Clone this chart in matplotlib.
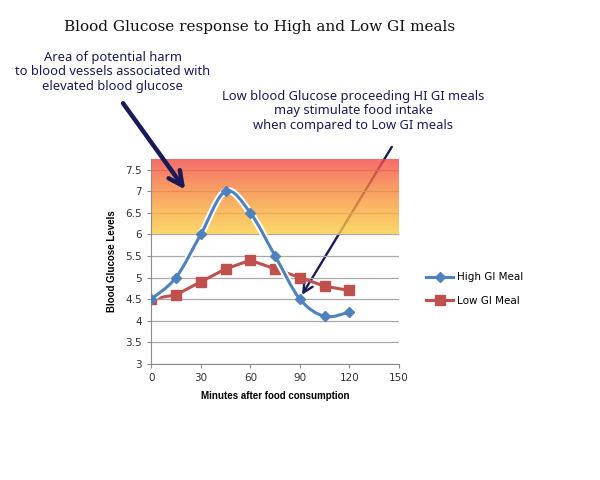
import matplotlib

matplotlib.use("Agg")

import matplotlib.pyplot as plt
import matplotlib.patheffects as pe
import numpy as np
from matplotlib.colors import LinearSegmentedColormap
from matplotlib.path import Path
from matplotlib.patches import PathPatch

minutes = [0, 15, 30, 45, 60, 75, 90, 105, 120]
high_gi = [4.5, 5.0, 6.0, 7.0, 6.5, 5.5, 4.5, 4.1, 4.2]
low_gi = [4.5, 4.6, 4.9, 5.2, 5.4, 5.2, 5.0, 4.8, 4.7]

harm_low, harm_high = 6.0, 7.75

TITLE = "Blood Glucose response to High and Low GI meals"
NOTE_LEFT = "Area of potential harm\nto blood vessels associated with\nelevated blood glucose"
NOTE_RIGHT = "Low blood Glucose proceeding HI GI meals\nmay stimulate food intake\nwhen compared to Low GI meals"

BLUE = "#4f81bd"
RED = "#c0504d"
NAVY = "#1a1a5a"


def smooth_path(xs, ys, tension=1 / 6):
    # Catmull-Rom style cubic bezier through the points (like Excel's smoothed line)
    pts = np.column_stack([xs, ys]).astype(float)
    verts = [pts[0]]
    codes = [Path.MOVETO]
    n = len(pts)
    for i in range(n - 1):
        p0 = pts[i - 1] if i > 0 else pts[i]
        p1 = pts[i]
        p2 = pts[i + 1]
        p3 = pts[i + 2] if i + 2 < n else pts[i + 1]
        c1 = p1 + (p2 - p0) * tension
        c2 = p2 - (p3 - p1) * tension
        verts += [c1, c2, p2]
        codes += [Path.CURVE4] * 3
    return Path(verts, codes)


def main() -> None:
    fig = plt.figure(figsize=(6.0, 4.8), dpi=100)
    fig.patch.set_facecolor("white")
    ax = fig.add_axes([0.252, 0.242, 0.413, 0.427])

    ax.set_xlim(0, 150)
    ax.set_ylim(3, 7.75)

    ax.set_yticks(np.arange(3, 7.51, 0.5))
    ax.set_yticklabels(["3", "3.5", "4", "4.5", "5", "5.5", "6", "6.5", "7", "7.5"])
    ax.set_xticks(range(0, 151, 30))
    ax.grid(axis="y", color="#a8a8a8", linewidth=0.9, zorder=1)
    for s in ["top", "right"]:
        ax.spines[s].set_visible(False)
    for s in ["left", "bottom"]:
        ax.spines[s].set_color("#8c8c8c")
    ax.tick_params(axis="both", labelsize=7.5, colors="#333333", length=3,
                   color="#8c8c8c")

    ax.set_xlabel("Minutes after food consumption", fontsize=7, fontweight="bold",
                  family="Liberation Sans", labelpad=6)
    ax.set_ylabel("Blood Glucose Levels", fontsize=7, fontweight="bold",
                  family="Liberation Sans", labelpad=6)

    # right arrow sits under the translucent harm band
    ax.annotate("", xy=(91.3, 4.6), xycoords="data",
                xytext=(0.653, 0.694), textcoords="figure fraction",
                arrowprops=dict(arrowstyle="->,head_length=0.7,head_width=0.35",
                                color=NAVY, lw=1.7, shrinkA=0, shrinkB=0),
                zorder=1.5, annotation_clip=False)

    # harmful zone gradient (yellow at 6 -> red at the top)
    cmap = LinearSegmentedColormap.from_list(
        "harm", ["#fcce46", "#f9a83c", "#f77a3e", "#f24646"]
    )
    grad = np.linspace(0, 1, 256).reshape(-1, 1)
    ax.imshow(grad, extent=[0, 150, harm_low, harm_high], origin="lower",
              aspect="auto", cmap=cmap, alpha=0.8, zorder=2)

    # smoothed High GI line with white halo
    patch = PathPatch(smooth_path(minutes, high_gi), facecolor="none", edgecolor=BLUE,
                      linewidth=2.2, zorder=4,
                      path_effects=[pe.Stroke(linewidth=5, foreground="white"), pe.Normal()])
    ax.add_patch(patch)
    ax.plot(minutes, high_gi, linestyle="none", marker="D", markersize=5,
            color=BLUE, zorder=5)
    ax.plot(minutes, low_gi, color=RED, linewidth=2.2, marker="s", markersize=7,
            zorder=3)

    # legend entries
    h1, = ax.plot([], [], color=BLUE, linewidth=2.2, marker="D", markersize=5)
    h2, = ax.plot([], [], color=RED, linewidth=2.2, marker="s", markersize=7)
    fig.legend([h1, h2], ["High GI Meal", "Low GI Meal"], loc="center left",
               bbox_to_anchor=(0.695, 0.398), frameon=False, fontsize=7.5,
               handlelength=2.6, labelspacing=1.3, handletextpad=0.3)

    fig.text(0.433, 0.944, TITLE, ha="center", va="center", fontsize=11,
             family="DejaVu Serif", color="#111111")
    fig.text(0.188, 0.851, NOTE_LEFT, ha="center", va="center", fontsize=9.3,
             color=NAVY, linespacing=1.15, family="Noto Sans")
    fig.text(0.589, 0.769, NOTE_RIGHT, ha="center", va="center", fontsize=9.3,
             color=NAVY, linespacing=1.15, family="Noto Sans")

    # left arrow pointing into the harm band
    ax.annotate("", xy=(20.6, 7.04), xycoords="data",
                xytext=(0.205, 0.785), textcoords="figure fraction",
                arrowprops=dict(arrowstyle="->,head_length=1.0,head_width=0.5",
                                color=NAVY, lw=3.2, shrinkA=0, shrinkB=0),
                zorder=6, annotation_clip=False)

    fig.savefig("out.png", dpi=100)
    plt.close(fig)


if __name__ == "__main__":
    main()
